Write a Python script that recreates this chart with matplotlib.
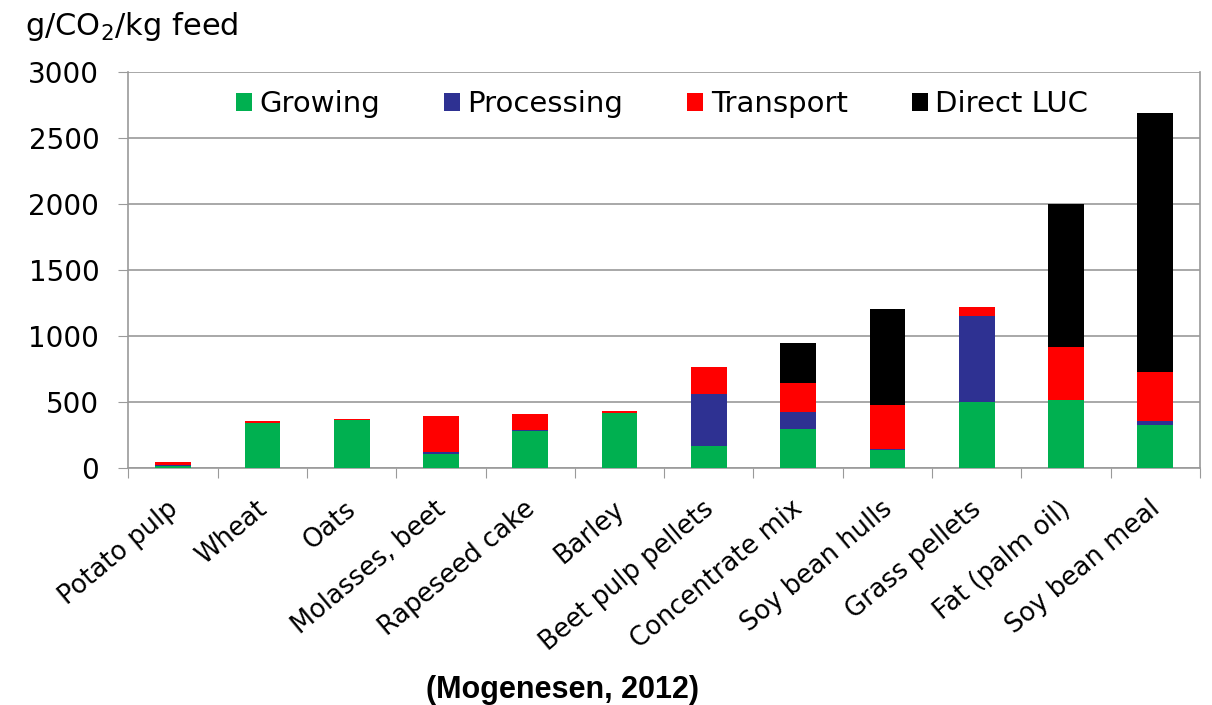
import matplotlib.pyplot as plt
import matplotlib.transforms as mtransforms
import numpy as np

categories = ["Potato pulp", "Wheat", "Oats", "Molasses, beet", "Rapeseed cake", "Barley",
              "Beet pulp pellets", "Concentrate mix", "Soy bean hulls", "Grass pellets",
              "Fat (palm oil)", "Soy bean meal"]
growing = [15, 340, 365, 110, 280, 415, 167, 293, 136, 502, 515, 326]
processing = [5, 0, 0, 15, 10, 0, 393, 134, 5, 650, 0, 33]
transport = [25, 15, 5, 270, 120, 20, 208, 214, 340, 65, 404, 371]
direct_luc = [0, 0, 0, 0, 0, 0, 0, 309, 724, 0, 1078, 1957]

series = [("Growing", growing, "#00b050"),
          ("Processing", processing, "#2e3192"),
          ("Transport", transport, "#ff0000"),
          ("Direct LUC", direct_luc, "#000000")]

fig = plt.figure(figsize=(12.12, 7.05), dpi=100)
ax = fig.add_axes([0.106, 0.336, 0.884, 0.562])

x = np.arange(len(categories))
bottom = np.zeros(len(categories))
for name, vals, col in series:
    ax.bar(x, vals, 0.4, bottom=bottom, color=col, label=name, zorder=3)
    bottom += np.array(vals)

ax.set_xlim(-0.5, len(categories) - 0.5)
ax.set_ylim(0, 3000)
ax.set_yticks(range(0, 3001, 500))
ax.yaxis.grid(True, color="#9a9a9a", linewidth=1.2, zorder=0)
ax.tick_params(axis="y", labelsize=20, length=7, color="#9a9a9a", pad=14)

# ticks between categories, labels at centres
ax.set_xticks(np.arange(-0.5, len(categories), 1.0))
ax.set_xticklabels([])
ax.set_xticks(x, minor=True)
ax.set_xticklabels(categories, minor=True, rotation=40, ha="right", rotation_mode="anchor",
                   fontsize=18.5)
ax.tick_params(axis="x", which="major", length=7, color="#9a9a9a")
ax.tick_params(axis="x", which="minor", length=0, pad=20)
shift = mtransforms.ScaledTranslation(-0.07, 0, fig.dpi_scale_trans)
for lab in ax.get_xticklabels(minor=True):
    lab.set_transform(lab.get_transform() + shift)

for s in ["left", "bottom", "right"]:
    ax.spines[s].set_color("#9a9a9a")
    ax.spines[s].set_linewidth(1.2)
ax.spines["top"].set_visible(False)

ax.legend(loc="center", bbox_to_anchor=(0.498, 0.918), ncol=4, frameon=False,
          fontsize=21, handlelength=0.55, handleheight=0.55, handletextpad=0.25,
          columnspacing=2.2)

fig.text(0.021, 0.962, "g/CO$_2$/kg feed", fontsize=22, ha="left", va="center")
fig.text(0.464, 0.021, "(Mogenesen, 2012)", fontsize=22, fontweight="bold",
         family="Liberation Sans", ha="center", va="center")

fig.savefig("out.png", dpi=100)
